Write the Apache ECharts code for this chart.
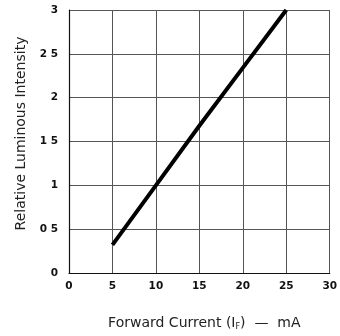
<!DOCTYPE html>
<html>
<head>
<meta charset="utf-8">
<script src="https://cdn.jsdelivr.net/npm/echarts@6/dist/echarts.min.js"></script>
<style>
  html, body { margin: 0; padding: 0; background: #fff; }
  #main { width: 340px; height: 336px; }
</style>
</head>
<body>
<div id="main"></div>
<script>
var chart = echarts.init(document.getElementById('main'));

// forward current (mA) vs relative luminous intensity
var current = [5, 10, 15, 20, 25];
var intensity = [0.32, 1.0, 1.68, 2.34, 3.0];
var yTickLabels = { 0: '0', 0.5: '0 5', 1: '1', 1.5: '1 5', 2: '2', 2.5: '2 5', 3: '3' };

var gridColor = '#555';
var font = 'DejaVu Sans';

var option = {
  backgroundColor: '#ffffff',
  animation: false,
  grid: { left: 69, right: 9, top: 10, bottom: 63 },
  xAxis: {
    type: 'value',
    min: 0, max: 30, interval: 5,
    name: '{n|Forward Current (I}{s|F}{n|)  —  mA}',
    nameLocation: 'middle',
    nameGap: 43,
    nameTextStyle: {
      padding: [0, 0, 0, 10],
      rich: {
        n: { fontFamily: font, fontSize: 14, color: '#222' },
        s: { fontFamily: font, fontSize: 8, color: '#222', verticalAlign: 'bottom', padding: [7, 0, 0, 0] }
      }
    },
    axisLine: { show: true, lineStyle: { color: '#111', width: 1.2 } },
    axisTick: { show: false },
    axisLabel: { margin: 8, fontFamily: font, fontWeight: 'bold', fontSize: 10.5, color: '#111' },
    splitLine: { show: true, lineStyle: { color: gridColor, width: 1 } }
  },
  yAxis: {
    type: 'value',
    min: 0, max: 3, interval: 0.5,
    name: 'Relative Luminous Intensity',
    nameLocation: 'middle',
    nameGap: 40,
    nameTextStyle: { fontFamily: font, fontSize: 14, color: '#222', padding: [0, 0, 0, 16] },
    axisLine: { show: true, lineStyle: { color: '#111', width: 1.2 } },
    axisTick: { show: false },
    axisLabel: {
      margin: 11, fontFamily: font, fontWeight: 'bold', fontSize: 10.5, color: '#111',
      formatter: function (v) { return yTickLabels[v] !== undefined ? yTickLabels[v] : v; }
    },
    splitLine: { show: true, lineStyle: { color: gridColor, width: 1 } }
  },
  series: [{
    type: 'line',
    data: current.map(function (c, i) { return [c, intensity[i]]; }),
    showSymbol: false,
    lineStyle: { color: '#000', width: 4 }
  }]
};

chart.setOption(option);
</script>
</body>
</html>
